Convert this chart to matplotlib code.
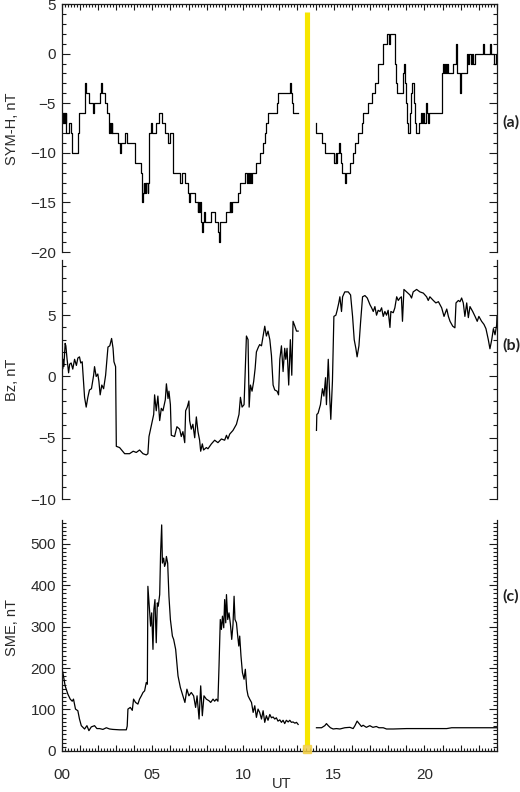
import numpy as np
import matplotlib
matplotlib.use('Agg')
import matplotlib.pyplot as plt
from matplotlib.ticker import MultipleLocator, FuncFormatter
from matplotlib.lines import Line2D
import matplotlib.transforms as mtransforms

plt.rcParams['font.family'] = ['Liberation Sans', 'DejaVu Sans']

nan = np.nan

# ---------------- SYM-H (1-min, integer nT) ----------------
symh_time = [0.00, 0.04, 0.08, 0.12, 0.17, 0.22, 0.27, 0.42, 0.50, 0.60, 0.92, 0.98,
             1.28, 1.33, 1.54, 1.76, 1.80, 2.10, 2.17, 2.21, 2.37, 2.50, 2.59, 2.64,
             2.68, 2.72, 2.76, 2.80, 2.84, 3.11, 3.20, 3.29, 3.51, 3.62, 4.03, 4.36,
             4.42, 4.46, 4.49, 4.53, 4.56, 4.60, 4.64, 4.68, 4.74, 4.78, 4.84, 4.95,
             4.98, 5.22, 5.35, 5.54, 5.68, 5.87, 5.96, 6.15, 6.51, 6.62, 6.79, 6.97,
             7.04, 7.08, 7.34, 7.50, 7.54, 7.58, 7.62, 7.66, 7.71, 7.75, 7.78, 7.86,
             7.92, 8.26, 8.44, 8.62, 8.69, 8.73, 9.09, 9.27, 9.30, 9.33, 9.36, 9.40,
             9.73, 9.82, 10.10, 10.20, 10.26, 10.32, 10.38, 10.44, 10.50, 10.74, 10.92,
             11.08, 11.20, 11.29, 11.40, 11.85, 11.94, 12.58, 12.62, 12.72, 12.76, 13.04,
             13.05,
             14.00, 14.05, 14.33, 14.50, 15.04, 15.10, 15.15, 15.20, 15.28, 15.33, 15.38,
             15.48, 15.60, 15.66, 15.89, 16.04, 16.17, 16.35, 16.55, 16.63, 16.90, 17.09,
             17.27, 17.45, 17.73, 17.95, 18.06, 18.12, 18.36, 18.40, 18.44, 18.50, 18.82,
             18.86, 18.92, 18.98, 19.04, 19.08, 19.20, 19.28, 19.34, 19.40, 19.46, 19.52,
             19.72, 19.80, 19.86, 19.92, 20.00, 20.06, 20.10, 20.14, 20.20, 20.26, 20.95,
             21.00, 21.06, 21.12, 21.18, 21.24, 21.30, 21.58, 21.74, 21.80, 21.98, 22.04,
             22.32, 22.42, 22.48, 22.54, 22.62, 22.70, 22.78, 23.22, 23.27, 23.62, 23.67,
             23.86, 23.94, 24.00]
symh_val = [-7, -6, -7, -6, -7, -6, -8, -7, -8, -10, -8, -6,
            -3, -4, -5, -6, -5, -4, -3, -4, -5, -6, -7, -8,
            -7, -8, -7, -8, -8, -9, -10, -9, -8, -9, -11, -12,
            -13, -15, -14, -13, -14, -13, -14, -13, -14, -13, -8, -7,
            -8, -7, -6, -7, -8, -9, -8, -12, -13, -12, -13, -14,
            -15, -14, -15, -16, -15, -16, -15, -16, -17, -18, -17, -16,
            -17, -16, -17, -18, -19, -17, -16, -15, -16, -15, -16, -15,
            -14, -13, -12, -13, -12, -13, -12, -13, -12, -11, -10,
            -9, -8, -7, -6, -5, -4, -3, -4, -5, -6, -6,
            nan,
            -7, -8, -9, -10, -11, -10, -11, -10, -9, -10, -11,
            -12, -13, -12, -11, -10, -9, -8, -7, -6, -5, -4,
            -3, -1, 1, 2, 1, 2, 1, -1, -3, -4, -2,
            -1, -3, -5, -7, -8, -6, -4, -3, -5, -7, -8,
            -7, -6, -7, -6, -7, -6, -5, -6, -7, -6, -2,
            -1, -2, -1, -2, -1, -2, -1, 1, -2, -4, -2,
            0, -1, 0, -1, 0, -1, 0, 1, 0, 1, 0,
            -1, 0, 0]

# ---------------- IMF Bz ----------------
bz_time = [0.00, 0.03, 0.06, 0.09, 0.12, 0.16, 0.20, 0.24, 0.30, 0.39, 0.45, 0.53,
           0.62, 0.72, 0.82, 0.90, 0.99, 1.06, 1.14, 1.27, 1.36, 1.45, 1.54, 1.65,
           1.77, 1.82, 1.91, 2.00, 2.06, 2.13, 2.22, 2.32, 2.43, 2.56, 2.66, 2.76,
           2.84, 2.89, 2.98, 3.02, 3.20, 3.48, 3.75, 3.95, 4.12, 4.30, 4.49, 4.67,
           4.76, 4.82, 4.95, 5.08, 5.13, 5.22, 5.31, 5.41, 5.50, 5.59, 5.72, 5.78,
           5.87, 5.92, 6.00, 6.05, 6.23, 6.36, 6.51, 6.60, 6.69, 6.79, 6.84, 6.93,
           7.02, 7.06, 7.15, 7.24, 7.34, 7.43, 7.52, 7.61, 7.67, 7.76, 7.83, 7.98,
           8.07, 8.26, 8.44, 8.62, 8.81, 8.99, 9.09, 9.17, 9.27, 9.45, 9.64, 9.78,
           9.86, 9.95, 10.06, 10.19, 10.28, 10.34, 10.41, 10.50, 10.59, 10.67, 10.74,
           10.85, 10.92, 11.02, 11.11, 11.20, 11.29, 11.38, 11.48, 11.57, 11.66, 11.75,
           11.88, 11.96, 12.03, 12.12, 12.21, 12.30, 12.36, 12.43, 12.52, 12.61, 12.69,
           12.76, 12.86, 12.95, 13.04, 13.05,
           14.05, 14.07, 14.14, 14.27, 14.38, 14.46, 14.55, 14.60, 14.70, 14.79, 14.84,
           14.93, 15.01, 15.12, 15.19, 15.28, 15.34, 15.43, 15.49, 15.61, 15.80, 15.93,
           16.04, 16.13, 16.22, 16.29, 16.39, 16.48, 16.59, 16.72, 16.85, 17.00, 17.09,
           17.18, 17.27, 17.36, 17.45, 17.55, 17.64, 17.73, 17.82, 17.91, 18.00, 18.10,
           18.15, 18.28, 18.37, 18.47, 18.56, 18.65, 18.73, 18.79, 18.87, 19.02, 19.20,
           19.29, 19.38, 19.57, 19.75, 19.94, 20.12, 20.21, 20.30, 20.49, 20.63, 20.77,
           20.95, 21.08, 21.23, 21.32, 21.41, 21.56, 21.68, 21.74, 21.87, 21.96, 22.05,
           22.14, 22.23, 22.33, 22.42, 22.51, 22.66, 22.79, 22.91, 23.00, 23.15, 23.28,
           23.39, 23.52, 23.61, 23.71, 23.80, 23.89, 23.98, 24.00]
bz_val = [0.1, 1.2, 0.6, 1.4, 0.8, 1.6, 2.7, 2.5, 1.5, 0.3, 1.0, 1.1,
          0.6, 1.4, 0.9, 1.5, 1.6, 1.1, 1.2, -1.7, -2.5, -1.7, -1.1, -1.0,
          0.1, 0.8, 0.0, 0.2, -0.4, -1.5, -0.7, -1.0, 0.1, 2.4, 2.5, 3.1,
          2.3, 1.2, 0.8, -5.7, -5.8, -6.3, -6.3, -6.1, -6.2, -6.0, -6.3, -6.4,
          -6.3, -4.9, -4.0, -3.1, -1.5, -2.8, -1.6, -3.6, -2.6, -2.8, -1.9, -0.6,
          -1.8, -1.2, -2.3, -4.8, -4.9, -4.1, -4.3, -4.9, -4.5, -5.4, -2.8, -2.5,
          -2.0, -3.6, -4.3, -3.9, -5.0, -3.3, -4.5, -5.2, -6.1, -5.5, -6.0, -5.8,
          -5.9, -5.5, -5.2, -5.4, -5.1, -5.2, -4.8, -5.1, -4.7, -4.4, -3.9, -3.1,
          -1.7, -2.5, -2.3, 3.3, 3.0, -2.5, -0.7, -1.2, -0.4, 0.65, 2.0,
          2.4, 2.6, 2.5, 3.3, 4.1, 3.3, 3.7, 3.0, 1.7, -0.7, -1.1,
          -1.2, -1.5, 1.4, 2.5, 0.4, 2.3, 1.4, 2.3, -0.7, 3.0, 0.1,
          4.5, 4.1, 3.7, 3.7, nan,
          -4.4, -3.1, -3.0, -2.3, -1.0, -1.6, -0.1, -2.3, 1.4, -2.0, -3.5,
          -0.4, 4.9, 5.0, 5.4, 6.0, 6.5, 5.3, 6.5, 6.9, 6.9, 6.65,
          4.9, 3.0, 2.3, 1.6, 2.5, 4.4, 6.5, 6.6, 6.4, 5.85, 5.6,
          5.3, 5.7, 5.0, 5.4, 5.3, 5.6, 4.9, 5.3, 5.0, 5.4, 4.0,
          5.3, 5.2, 5.6, 6.5, 6.2, 6.4, 6.5, 4.5, 7.1, 6.9, 6.65,
          6.4, 6.9, 7.1, 6.9, 6.8, 6.5, 6.2, 6.5, 6.2, 6.0, 6.1,
          5.6, 4.9, 5.5, 4.9, 4.5, 4.1, 3.97, 6.0, 6.2, 6.1, 6.4,
          6.0, 4.9, 6.0, 4.8, 5.7, 5.3, 4.9, 4.5, 4.9, 4.5, 4.25,
          3.9, 3.0, 2.26, 3.0, 3.9, 3.4, 4.2, 4.9]

# ---------------- SME index ----------------
sme_time = [0.00, 0.04, 0.07, 0.20, 0.35, 0.48, 0.59, 0.66, 0.77, 0.90, 0.99, 1.09,
            1.27, 1.40, 1.51, 1.64, 1.82, 1.95, 2.10, 2.28, 2.47, 2.65, 2.83, 3.20,
            3.57, 3.62, 3.66, 3.79, 3.90, 3.97, 4.08, 4.21, 4.30, 4.40, 4.49, 4.58,
            4.67, 4.73, 4.76, 4.86, 4.91, 4.97, 5.04, 5.09, 5.15, 5.22, 5.28, 5.33,
            5.41, 5.46, 5.52, 5.56, 5.63, 5.68, 5.74, 5.78, 5.85, 5.92, 6.00, 6.11,
            6.18, 6.29, 6.42, 6.55, 6.69, 6.80, 6.91, 7.02, 7.15, 7.28, 7.39, 7.47,
            7.58, 7.67, 7.76, 7.85, 7.98, 8.13, 8.22, 8.35, 8.44, 8.53, 8.62, 8.68,
            8.75, 8.81, 8.87, 8.94, 8.99, 9.05, 9.09, 9.16, 9.23, 9.31, 9.38, 9.45,
            9.51, 9.56, 9.64, 9.71, 9.77, 9.82, 9.89, 9.97, 10.06, 10.13, 10.21, 10.28,
            10.37, 10.47, 10.56, 10.65, 10.74, 10.83, 10.92, 11.02, 11.11, 11.20, 11.29,
            11.38, 11.48, 11.57, 11.66, 11.75, 11.84, 11.93, 12.03, 12.12, 12.21, 12.30,
            12.39, 12.49, 12.58, 12.67, 12.76, 12.86, 12.95, 13.04, 13.05,
            14.05, 14.33, 14.51, 14.60, 14.70, 14.82, 14.97, 15.15, 15.34, 15.61, 15.89,
            16.07, 16.17, 16.29, 16.40, 16.53, 16.62, 16.80, 16.99, 17.16, 17.35, 17.49,
            17.73, 17.91, 18.28, 19.02, 19.75, 20.49, 21.23, 21.50, 21.96, 22.69, 23.43,
            24.00]
sme_val = [130, 195, 190, 157, 137, 125, 120, 125, 101, 97, 77, 61,
           53, 61, 49, 58, 61, 54, 54, 52, 56, 53, 52, 51,
           51, 60, 101, 105, 98, 125, 117, 113, 125, 133, 141, 145,
           165, 161, 397, 333, 301, 333, 245, 341, 365, 261, 357, 349,
           377, 477, 545, 453, 465, 445, 453, 469, 453, 373, 317, 277,
           269, 245, 181, 153, 133, 117, 149, 133, 141, 133, 105, 133,
           77, 157, 85, 133, 125, 121, 117, 125, 120, 125, 120, 205,
           317, 293, 325, 297, 365, 309, 377, 317, 333, 305, 269, 305,
           373, 317, 309, 277, 253, 277, 229, 189, 173, 197, 149, 133,
           125, 117, 93, 109, 81, 101, 93, 77, 97, 69, 85,
           74, 88, 80, 82, 77, 80, 72, 75, 69, 74, 66,
           74, 70, 74, 69, 70, 67, 69, 64, nan,
           56, 56, 61, 66, 61, 56, 53, 54, 53, 56, 57,
           54, 61, 72, 66, 59, 62, 57, 61, 57, 59, 56,
           56, 53, 53, 54, 54, 54, 54, 56, 56, 56, 56,
           56]

event_time = 13.54
hour_labels = [0, 5, 10, 15, 20]

# ---------------- figure ----------------
fig = plt.figure(figsize=(5.2, 7.92), dpi=100)
L, W = 0.1183, 0.8375
axa = fig.add_axes([L, 0.6818, W, 0.3131])
axb = fig.add_axes([L, 0.3699, W, 0.3018])
axc = fig.add_axes([L, 0.0518, W, 0.2917])

ink = '#1a1a1a'
txt = '#2a2a2a'
for ax in (axa, axb, axc):
    ax.set_xlim(0, 24)
    for s in ax.spines.values():
        s.set_color(ink)
        s.set_linewidth(0.9)
    ax.tick_params(which='both', direction='in', colors=ink, labelcolor=txt,
                   labelsize=11, left=True, right=True, top=False, bottom=False,
                   labelbottom=False, width=0.8, pad=4)
    ax.tick_params(which='major', length=5.5)
    ax.tick_params(which='minor', length=3)

# panel a
axa.plot(symh_time, symh_val, drawstyle='steps-post', color='black', lw=0.9)
axa.set_ylim(-20, 5)
axa.yaxis.set_major_locator(MultipleLocator(5))
axa.yaxis.set_minor_locator(MultipleLocator(1))
axa.spines['bottom'].set_visible(False)
axa.xaxis.set_major_locator(MultipleLocator(1))
axa.xaxis.set_minor_locator(MultipleLocator(1 / 6))
axa.tick_params(axis='x', which='both', top=True, labeltop=False)
axa.tick_params(axis='x', which='major', length=4)
axa.tick_params(axis='x', which='minor', length=2.2)

# panel b
axb.plot(bz_time, bz_val, color='black', lw=0.9)
axb.set_ylim(-10, 9.5)
axb.yaxis.set_major_locator(MultipleLocator(5))
axb.yaxis.set_minor_locator(MultipleLocator(1))
axb.spines['top'].set_visible(False)
axb.spines['bottom'].set_visible(False)

# panel c
axc.plot(sme_time, sme_val, color='black', lw=0.9)
axc.set_ylim(0, 557)
axc.yaxis.set_major_locator(MultipleLocator(100))
axc.yaxis.set_minor_locator(MultipleLocator(10))
axc.spines['top'].set_visible(False)
axc.xaxis.set_major_locator(MultipleLocator(1))
axc.xaxis.set_minor_locator(MultipleLocator(1 / 6))
axc.xaxis.set_major_formatter(FuncFormatter(
    lambda v, p: '%02d' % int(round(v)) if int(round(v)) in hour_labels else ''))
axc.tick_params(axis='x', which='both', bottom=True, labelbottom=True)
axc.tick_params(axis='x', which='major', length=4, pad=12)
axc.tick_params(axis='x', which='minor', length=2.2)

# axis titles
fig.text(12 / 520, 1 - 129 / 792, 'SYM-H, nT', rotation=90, ha='center', va='center',
         fontsize=10.5, color=txt)
fig.text(12 / 520, 1 - 380 / 792, 'Bz, nT', rotation=90, ha='center', va='center',
         fontsize=10.5, color=txt)
fig.text(12 / 520, 1 - 628 / 792, 'SME, nT', rotation=90, ha='center', va='center',
         fontsize=10.5, color=txt)
fig.text(282 / 520, 1 - 784 / 792, 'UT', ha='center', va='center', fontsize=10.5,
         color=txt)

# panel tags
for lab, yc in (('(a)', 122), ('(b)', 345), ('(c)', 596)):
    fig.text(511 / 520, 1 - yc / 792, lab, ha='center', va='center', fontsize=11.5,
             fontweight='bold', family=['Lato', 'DejaVu Sans'], color='#222222')

# event marker (yellow vertical bar through all panels)
trans = mtransforms.blended_transform_factory(axc.transData, fig.transFigure)
fig.add_artist(Line2D([event_time, event_time], [1 - 745 / 792, 1 - 12 / 792],
                      transform=trans, color='#f7e600', lw=3.7, solid_capstyle='butt'))
fig.add_artist(Line2D([event_time], [1 - 749 / 792], transform=trans, marker='s',
                      ms=6, color='#f2cf45', mec='#f2cf45', alpha=0.85))

fig.savefig('out.png', dpi=100, facecolor='white')
